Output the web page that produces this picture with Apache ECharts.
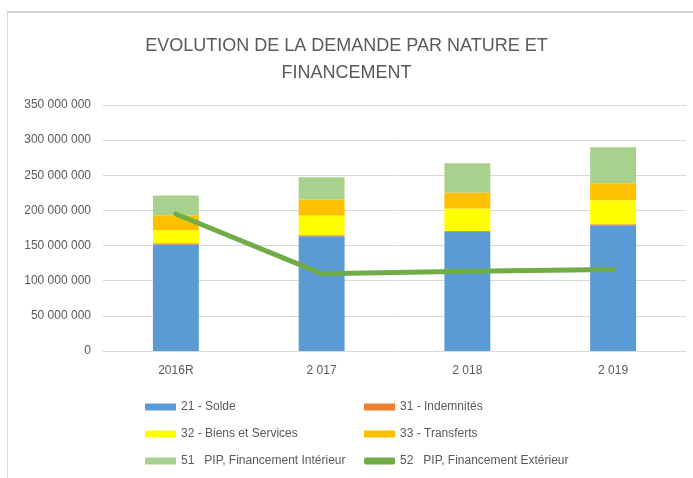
<!DOCTYPE html>
<html>
<head>
<meta charset="utf-8">
<script src="https://cdn.jsdelivr.net/npm/echarts@6/dist/echarts.min.js"></script>
<style>
  html, body { margin: 0; padding: 0; background: #fff; }
  #frame { position: absolute; left: 7px; top: 11px; width: 686px; height: 467px;
           border-left: 1px solid #d9d9d9; border-top: 2px solid #cfcfcf; }
  #chart { position: absolute; left: 0; top: 0; width: 693px; height: 478px; }
</style>
</head>
<body>
<div id="frame"></div>
<div id="chart"></div>
<script>
// valeurs
const years = ['2016R', '2 017', '2 018', '2 019']
const solde = [151500000, 163300000, 170400000, 179000000]
const indemnites = [1900000, 1400000, 500000, 1400000]
const biens = [18500000, 28100000, 31800000, 34100000]
const transferts = [21300000, 22700000, 22800000, 24200000]
const pipInterieur = [28000000, 31800000, 41700000, 51300000]
const pipExterieur = [195000000, 110000000, 113500000, 116000000]
const yTicks = [0, 50000000, 100000000, 150000000, 200000000, 250000000, 300000000, 350000000]

const txt = '#595959'
const font = 'Liberation Sans'

const fmt = v => String(v).replace(/\B(?=(\d{3})+(?!\d))/g, ' ')

const chart = echarts.init(document.getElementById('chart'))

const bar = (name, data, color) => ({
  name: name,
  type: 'bar',
  stack: 'total',
  barWidth: '31.5%',
  data: data,
  itemStyle: { color: color },
  emphasis: { disabled: true }
})

const legendBase = {
  top: 396, orient: 'vertical', itemGap: 15, height: 82,
  itemWidth: 31, itemHeight: 7,
  textStyle: { fontFamily: font, fontSize: 12, color: txt }
}

let option = {
  backgroundColor: 'transparent',
  animation: false,
  title: {
    text: 'EVOLUTION DE LA DEMANDE PAR NATURE ET\nFINANCEMENT',
    left: 'center',
    top: 28,
    textStyle: { fontFamily: font, fontSize: 18, fontWeight: 'normal', color: txt, lineHeight: 27 }
  },
  grid: { left: 103, right: 7, top: 105, bottom: 127 },
  legend: [
    Object.assign({}, legendBase, {
      left: 140,
      data: [
        { name: '21 - Solde', icon: 'rect' },
        { name: '32 - Biens et Services', icon: 'rect' },
        { name: '51   PIP, Financement Intérieur', icon: 'rect' }
      ]
    }),
    Object.assign({}, legendBase, {
      left: 359,
      data: [
        { name: '31 - Indemnités', icon: 'rect' },
        { name: '33 - Transferts', icon: 'rect' },
        { name: '52   PIP, Financement Extérieur', icon: 'roundRect' }
      ]
    })
  ],
  xAxis: {
    type: 'category',
    data: years,
    axisLine: { lineStyle: { color: '#d9d9d9' } },
    axisTick: { show: false },
    axisLabel: { fontFamily: font, fontSize: 12, color: txt, margin: 14 }
  },
  yAxis: {
    type: 'value',
    min: yTicks[0],
    max: yTicks[yTicks.length - 1],
    interval: yTicks[1] - yTicks[0],
    splitLine: { lineStyle: { color: '#d9d9d9' } },
    axisLabel: { fontFamily: font, fontSize: 12, color: txt, margin: 12, formatter: fmt }
  },
  series: [
    bar('21 - Solde', solde, '#5b9bd5'),
    bar('31 - Indemnités', indemnites, '#ed7d31'),
    bar('32 - Biens et Services', biens, '#ffff00'),
    bar('33 - Transferts', transferts, '#ffc000'),
    bar('51   PIP, Financement Intérieur', pipInterieur, '#a9d18e'),
    {
      name: '52   PIP, Financement Extérieur',
      type: 'line',
      data: pipExterieur,
      showSymbol: false,
      symbol: 'none',
      lineStyle: { color: '#70ad47', width: 5, cap: 'round' },
      itemStyle: { color: '#70ad47' },
      emphasis: { disabled: true },
      z: 5
    }
  ]
}
chart.setOption(option)
</script>
</body>
</html>
